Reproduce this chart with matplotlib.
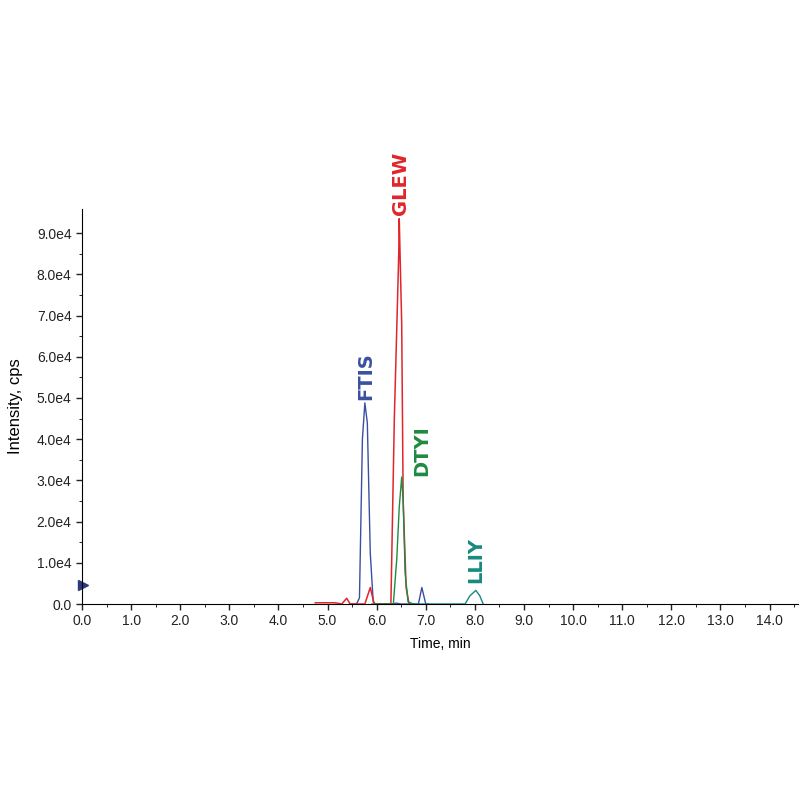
import numpy as np
import matplotlib.pyplot as plt

plt.rcParams['font.family'] = ['Liberation Sans', 'DejaVu Sans']

# trace data (time in min, intensity in cps)
ftis_t = [5.45, 5.55, 5.59, 5.65, 5.71, 5.76, 5.81, 5.87, 5.93, 5.98, 6.1, 6.3, 6.4, 6.5, 6.8, 6.85, 6.92, 7.0, 7.05]
ftis_y = [0, 0, 0, 1500, 40000, 48800, 44000, 12400, 500, 0, 0, 0, 200, 0, 0, 0, 4000, 0, 0]

glew_t = [4.75, 5.15, 5.29, 5.39, 5.46, 5.6, 5.76, 5.87, 5.95, 6.1, 6.29, 6.36, 6.41, 6.45, 6.46, 6.51, 6.54, 6.6, 6.66, 6.7]
glew_y = [300, 300, 0, 1400, 0, 0, 0, 4000, 0, 0, 0, 45000, 67000, 85000, 93500, 68000, 25000, 4000, 0, 0]

dtyi_t = [5.9, 6.27, 6.34, 6.41, 6.46, 6.51, 6.54, 6.58, 6.64, 6.75]
dtyi_y = [0, 0, 0, 11000, 23500, 30800, 25000, 7500, 500, 0]

lliy_t = [6.68, 7.45, 7.8, 7.9, 8.02, 8.1, 8.17]
lliy_y = [0, 0, 0, 2000, 3300, 2000, 0]

xticks = np.arange(0, 15, 1.0)
yticks = np.arange(0, 100000, 10000)

fig = plt.figure(figsize=(8, 8), dpi=100)
ax = fig.add_axes([0.1025, 0.245, 0.895, 0.494])

ax.plot(ftis_t, ftis_y, color='#3b4fa0', lw=1)
ax.plot(glew_t, glew_y, color='#e0262a', lw=1.1)
ax.plot(dtyi_t, dtyi_y, color='#1f8a42', lw=1)
ax.plot(lliy_t, lliy_y, color='#178a80', lw=1)

# peak labels
lab = dict(rotation=90, fontsize=14, fontweight='bold', ha='center', va='bottom',
           family='DejaVu Sans')
ax.text(5.78, 49500, 'FTIS', color='#3b4fa0', **lab)
ax.text(6.48, 94500, 'GLEW', color='#e0262a', clip_on=False, **lab)
ax.text(6.92, 31000, 'DTYI', color='#1f8a42', **lab)
ax.text(8.02, 5000, 'LLIY', color='#178a80', **lab)

# little marker on the y axis
ax.plot([0.02], [4500], marker='>', color='#2a3a7a', ms=7, clip_on=False)

ax.set_xlim(0, 14.58)
ax.set_ylim(0, 95900)
ax.set_xticks(xticks)
ax.set_xticklabels(['%.1f' % v for v in xticks])
ax.set_xticks(np.arange(0.5, 14.6, 1.0), minor=True)
ax.set_yticks(yticks)
ax.set_yticklabels(['0.0'] + ['%.1fe4' % (v / 10000) for v in yticks[1:]])
ax.set_yticks(np.arange(5000, 95000, 10000), minor=True)
ax.tick_params(labelsize=10, length=4, width=1, colors='#222222')
ax.tick_params(which='minor', length=2)

for s in ['top', 'right']:
    ax.spines[s].set_visible(False)

ax.set_xlabel('Time, min', fontsize=10, labelpad=6)
ax.set_ylabel('Intensity, cps', fontsize=12, labelpad=10)

fig.savefig('out.png', dpi=100)
